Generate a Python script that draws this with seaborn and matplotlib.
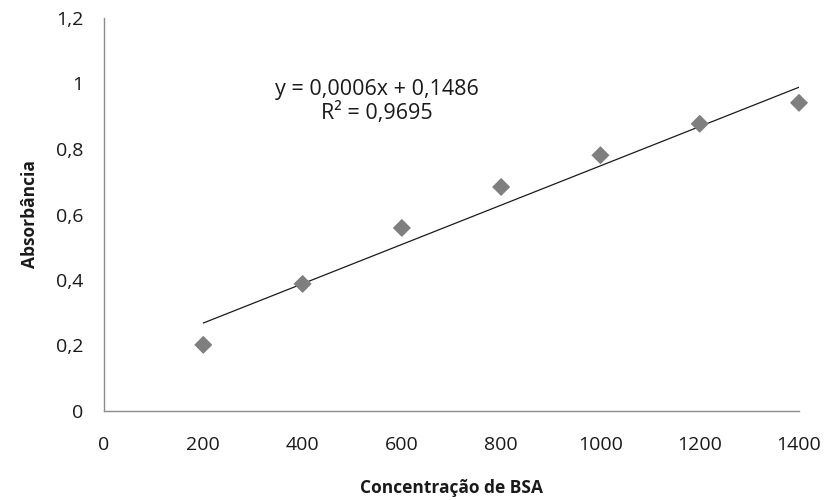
import matplotlib
matplotlib.use("Agg")
import matplotlib.pyplot as plt
import seaborn as sns
import pandas as pd

# BSA calibration readings
concentration = [200, 400, 600, 800, 1000, 1200, 1400]
absorbance = [0.202, 0.388, 0.559, 0.684, 0.781, 0.877, 0.941]

# Linear trendline parameters as reported on the chart
slope = 0.0006
intercept = 0.1486
r_squared = 0.9695

y_ticks = [0, 0.2, 0.4, 0.6, 0.8, 1.0, 1.2]
y_tick_labels = ["0", "0,2", "0,4", "0,6", "0,8", "1", "1,2"]
x_ticks = [0, 200, 400, 600, 800, 1000, 1200, 1400]
x_tick_labels = ["0", "200", "400", "600", "800", "1000", "1200", "1400"]

sns.set_style("white")
plt.rcParams["font.family"] = ["Open Sans", "DejaVu Sans"]

fig = plt.figure(figsize=(8.29, 5.0), dpi=100)
ax = fig.add_axes([104 / 829, 89 / 500, 695 / 829, 393 / 500])

df = pd.DataFrame({"x": concentration, "y": absorbance})
trend = pd.DataFrame({"x": [concentration[0], concentration[-1]]})
trend["y"] = slope * trend["x"] + intercept

sns.lineplot(data=trend, x="x", y="y", ax=ax, color="#1a1a1a", linewidth=0.9)
sns.scatterplot(data=df, x="x", y="y", ax=ax, marker="D", s=85,
                color="#7f7f7f", edgecolor="none", zorder=3, clip_on=False)

ax.set_xlim(0, 1400)
ax.set_ylim(0, 1.2)
ax.set_xticks(x_ticks)
ax.set_xticklabels(x_tick_labels)
ax.set_yticks(y_ticks)
ax.set_yticklabels(y_tick_labels)
ax.tick_params(axis="both", length=0, labelsize=14, colors="#1a1a1a")
ax.tick_params(axis="x", pad=18)
ax.tick_params(axis="y", pad=15)

for side in ["top", "right"]:
    ax.spines[side].set_visible(False)
for side in ["left", "bottom"]:
    ax.spines[side].set_color("#8c8c8c")
    ax.spines[side].set_linewidth(1.0)

ax.set_xlabel("Concentração de BSA", fontsize=12.5, fontweight="bold",
              color="#1a1a1a", labelpad=18)
ax.set_ylabel("Absorbância", fontsize=12.5, fontweight="bold",
              color="#1a1a1a", labelpad=12)

equation = (f"y = {slope:.4f}x + {intercept:.4f}\n"
            f"R² = {r_squared:.4f}").replace(".", ",")
ax.text(550, 0.945, equation, ha="center", va="center", fontsize=15.5,
        color="#1a1a1a", linespacing=1.15)

fig.savefig("out.png", dpi=100)
